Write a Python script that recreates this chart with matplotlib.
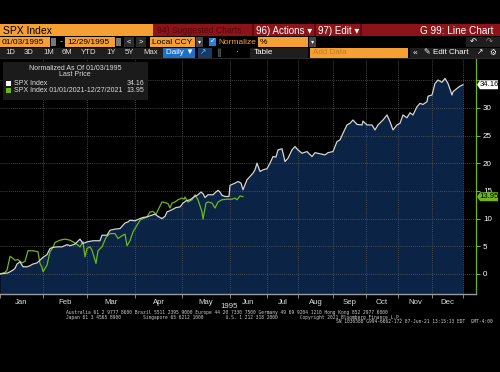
import numpy as np
import matplotlib
matplotlib.use('Agg')
import matplotlib.pyplot as plt
from matplotlib.patches import Rectangle, Polygon

# Du lieu doc tu anh (truc x = chi so quan sat, khong deu theo thang)
spx_obs = [0, 8, 13, 15, 17, 20, 23, 27, 30, 33, 37, 40, 43, 47, 50, 53, 57, 62, 67, 70,
           75, 80, 83, 87, 93, 100, 102, 107, 110, 115, 120, 125, 128, 130, 135, 140, 143, 147, 150, 155,
           158, 162, 165, 167, 172, 176, 180, 183, 186, 190, 194, 198, 201, 203, 205, 208, 213, 216, 218, 220,
           222, 225, 229, 230, 235, 238, 241, 243, 247, 250, 253, 255, 257, 260, 263, 267, 270, 273, 276, 278,
           282, 285, 288, 292, 295, 298, 302, 307, 312, 315, 320, 325, 328, 333, 337, 340, 343, 347, 350, 353,
           357, 362, 363, 367, 372, 375, 378, 383, 387, 390, 393, 397, 400, 403, 407, 410, 413, 417, 420, 423,
           427, 428, 432, 435, 438, 442, 445, 448, 452, 453, 457, 460, 463]
spx_1995 = [0.0, 0.2, 0.7, 1.0, 1.8, 2.2, 1.3, 1.3, 1.5, 1.8, 2.0, 2.5, 3.0, 3.5, 4.6, 4.8, 4.9, 4.9, 5.3, 5.1,
            5.4, 6.3, 5.5, 5.8, 6.0, 6.0, 7.0, 7.0, 7.9, 8.1, 8.2, 9.2, 9.4, 9.7, 9.6, 10.0, 10.2, 10.3, 10.5, 10.8,
            10.4, 10.0, 10.4, 11.2, 11.6, 12.0, 12.1, 12.8, 13.2, 13.4, 13.9, 14.3, 14.8, 14.5, 13.8, 14.3, 14.3, 14.8, 15.1, 14.8,
            14.2, 14.0, 14.0, 16.0, 16.4, 16.7, 16.4, 15.2, 17.0, 17.6, 18.2, 18.8, 20.0, 18.5, 18.8, 19.0, 20.0, 21.2, 21.1, 22.4,
            22.6, 20.3, 20.9, 22.4, 23.0, 22.4, 21.8, 22.1, 21.2, 21.9, 21.7, 21.5, 21.9, 22.1, 23.9, 24.2, 25.4, 26.9, 27.2, 27.8,
            27.0, 26.9, 27.6, 26.9, 26.9, 26.0, 26.9, 27.8, 28.7, 27.5, 26.0, 26.9, 27.2, 28.7, 28.2, 29.1, 28.7, 30.2, 30.8, 30.6,
            31.1, 32.1, 32.3, 34.4, 35.0, 34.6, 35.3, 34.4, 32.3, 32.9, 33.5, 33.9, 34.16]

g2021_obs = [0, 5, 7, 10, 13, 15, 18, 20, 22, 25, 28, 33, 38, 40, 42, 43, 47, 50, 53, 55,
             60, 65, 70, 75, 80, 83, 85, 87, 90, 92, 96, 98, 102, 106, 110, 115, 118, 122, 125, 127,
             130, 133, 137, 140, 143, 147, 150, 153, 156, 159, 162, 165, 168, 170, 172, 175, 178, 182, 184, 185,
             188, 192, 195, 198, 202, 203, 206, 208, 212, 215, 218, 222, 227, 232, 235, 237, 240, 243]
spx_2021 = [0.0, 0.3, 0.7, 3.2, 2.8, 2.5, 2.6, 2.3, 2.0, 2.3, 4.2, 4.2, 4.0, 1.9, 1.2, 0.4, 1.6, 4.0, 4.8, 5.7,
            6.1, 6.3, 6.1, 5.6, 4.9, 5.8, 3.1, 4.6, 4.9, 4.3, 1.9, 4.2, 4.9, 6.6, 7.3, 7.3, 6.4, 6.9, 7.2, 5.1,
            6.0, 7.6, 8.8, 9.7, 10.0, 10.3, 11.2, 11.3, 10.8, 11.9, 13.0, 12.9, 12.7, 11.9, 12.8, 13.0, 13.4, 13.7, 13.5, 13.9,
            13.0, 13.4, 14.3, 13.4, 11.2, 9.9, 12.8, 13.0, 12.8, 11.9, 13.0, 13.4, 13.5, 13.5, 13.7, 13.4, 14.1, 13.95]

months = ['Jan', 'Feb', 'Mar', 'Apr', 'May', 'Jun', 'Jul', 'Aug', 'Sep', 'Oct', 'Nov', 'Dec']
month_edges = [0, 43, 87, 135, 182, 230, 267, 298, 333, 366, 398, 432, 463]
y_ticks = [0, 5, 10, 15, 20, 25, 30, 35]

W, H = 500, 372
ORANGE = '#f6a033'
RED = '#8c1419'
GREEN = '#6fb51c'
NAVY = '#0b2446'

plt.rcParams['font.family'] = ['Liberation Sans', 'DejaVu Sans']
fig = plt.figure(figsize=(5, 3.72), dpi=100, facecolor='black')


def box(x, y, w, h, color, **kw):
    fig.patches.append(Rectangle((x / W, 1 - (y + h) / H), w / W, h / H,
                                 transform=fig.transFigure, facecolor=color,
                                 edgecolor='none', **kw))


def txt(x, y, s, size=5.2, color='white', **kw):
    fig.text(x / W, 1 - y / H, s, fontsize=size, color=color, va='center', **kw)


# ---- thanh tieu de ----
box(0, 24, 153, 12, ORANGE)
box(153, 24, 347, 12, RED)
for sx in [252, 314, 360]:
    box(sx, 24, 1.5, 12, '#5e0c10')
txt(3, 30.5, 'SPX Index', 7.5, 'black')
txt(157, 30.5, '94) Suggested Charts', 6.2, '#4e0a0d')
txt(256, 30.5, '96) Actions \u25be', 7, 'white')
txt(318, 30.5, '97) Edit \u25be', 7, 'white')
txt(494, 30.5, 'G 99: Line Chart', 7.2, 'white', ha='right')

# ---- hang 2 ----
box(0, 37, 50, 10, ORANGE)
txt(2, 42, '01/03/1995', 6, 'black')
box(51, 38, 5, 8, '#777777')
txt(60, 42, '-', 6, 'white')
box(65, 37, 50, 10, ORANGE)
txt(67, 42, '12/29/1995', 6, 'black')
box(116, 38, 5, 8, '#777777')
box(124, 37, 10, 10, '#2b2b2b')
box(136, 37, 10, 10, '#2b2b2b')
txt(126.5, 42, '<', 5.5, 'white')
txt(138.5, 42, '>', 5.5, 'white')
box(150, 37, 45, 10, ORANGE)
txt(152, 42, 'Local CCY', 6, 'black')
box(196, 37, 7, 10, '#444444')
txt(197.5, 42, '\u25be', 4.5, 'white')
box(209, 38, 7, 8, '#2d7fd6')
txt(209.5, 42, '\u2713', 5, 'white')
txt(218, 42, 'Normalize', 6, ORANGE)
box(258, 37, 50, 10, ORANGE)
txt(260, 42, '%', 6, 'black')
box(309, 37, 7, 10, '#444444')
txt(310.5, 42, '\u25be', 4.5, 'white')
box(466, 37, 34, 10, '#1e1e1e')
txt(470, 42, '\u21b6', 6, 'white')
txt(486, 42, '\u21b7', 6, '#888888')

# ---- hang 3 ----
btn_labels = ['1D', '3D', '1M', '6M', 'YTD', '1Y', '5Y', 'Max']
btn_x = [3, 22, 41, 60, 79, 104, 123, 141]
box(0, 48, 163, 10, '#1e1e1e')
for lab, bx in zip(btn_labels, btn_x):
    txt(bx + 2, 53, lab, 5.6, '#e0e0e0')
box(163, 48, 32, 10, '#1f6fc9')
txt(166, 53, 'Daily \u25bc', 5.8, 'white')
box(198, 48, 14, 10, '#1a3a66')
txt(200, 53, '\u2197', 5.5, '#7fb0ff')
txt(216, 53, '\u2551', 5, '#cccccc')
txt(236, 53, '\u00b7', 6, '#cccccc')
box(250, 48, 58, 10, '#1e1e1e')
txt(254, 53, 'Table', 5.8, 'white')
box(310, 48, 98, 10, ORANGE)
txt(313, 53, 'Add Data', 5.8, '#c77a20')
box(410, 48, 90, 10, '#1e1e1e')
txt(413, 53, '\u00ab', 6, 'white')
txt(424, 53, '\u270e Edit Chart', 5.8, 'white')
txt(477, 53, '\u2197', 5.5, 'white')
txt(489, 53, '\u2699', 5.5, 'white')
box(0, 58, 500, 0.6, '#2a2a2a')

# ---- bieu do chinh ----
ax = fig.add_axes([0, (H - 294) / H, 476 / W, (294 - 59) / H])
ax.set_facecolor('black')
ax.set_xlim(0, 476)
ax.set_ylim((274 - 294) / 5.54, (274 - 59) / 5.54)

ax.fill_between(spx_obs, spx_1995, -10, color=NAVY, zorder=1, lw=0)
for v in y_ticks:
    ax.axhline(v, color='#5a5a5a', lw=0.6, ls=(0, (1, 1.5)), zorder=2)
for e in month_edges[1:]:
    ax.axvline(e, color='#5a5a5a', lw=0.6, ls=(0, (1, 1.5)), zorder=2)
ax.plot(spx_obs, spx_1995, color='#d6d6d6', lw=0.9, zorder=4)
ax.plot(g2021_obs, spx_2021, color=GREEN, lw=0.9, zorder=3)

for s in ['top', 'left']:
    ax.spines[s].set_visible(False)
ax.spines['bottom'].set_color('#9a9a9a')
ax.spines['bottom'].set_linewidth(1.0)
ax.spines['right'].set_color(GREEN)
ax.spines['right'].set_linewidth(0.9)

ax.yaxis.tick_right()
ax.set_yticks(y_ticks)
# nhan 35 bi nhan gia tri cuoi che khuat
ax.set_yticklabels([str(v) if v != 35 else '' for v in y_ticks])
ax.tick_params(axis='y', colors=GREEN, labelcolor='white', length=3, width=0.8,
               labelsize=5.8, pad=2)
ax.set_xticks(month_edges)
ax.set_xticklabels([])
ax.tick_params(axis='x', colors='#9a9a9a', length=3, width=0.6)
mids = [(a + b) / 2 for a, b in zip(month_edges[:-1], month_edges[1:])]
for m, name in zip(mids, months):
    ax.text(m, -0.022, name, transform=ax.get_xaxis_transform(), ha='center',
            va='top', fontsize=5.6, color='#dddddd')


# nhan gia tri cuoi ben phai
def tag(val, fc, tc):
    y = 1 - ((274 - val * 5.54) / H)
    x0 = 477 / W
    w = 21 / W
    h = 9 / H
    fig.patches.append(Polygon([(x0, y), (x0 + 3 / W, y + h / 2), (x0 + w, y + h / 2),
                                (x0 + w, y - h / 2), (x0 + 3 / W, y - h / 2)],
                               closed=True, transform=fig.transFigure, facecolor=fc,
                               edgecolor='none', zorder=5))
    fig.text(x0 + 12 / W, y, f'{val:.2f}', fontsize=5.6, color=tc, ha='center',
             va='center', zorder=6)


tag(spx_1995[-1], 'white', 'black')
tag(spx_2021[-1], GREEN, 'black')

# ---- chu giai ----
box(3, 62, 145, 38, '#1b1b1b', zorder=5)
txt(75, 68, 'Normalized As Of 01/03/1995', 5.0, '#dddddd', ha='center', zorder=6)
txt(75, 75, 'Last Price', 5.0, '#dddddd', ha='center', zorder=6)
box(6, 81, 5, 5, 'white', zorder=6)
txt(14, 83.5, 'SPX Index', 5.0, '#dddddd', zorder=6)
txt(144, 83.5, f'{spx_1995[-1]:.2f}', 5.0, '#dddddd', ha='right', zorder=6)
box(6, 88, 5, 5, GREEN, zorder=6)
txt(14, 90.5, 'SPX Index 01/01/2021-12/27/2021', 5.0, '#dddddd', zorder=6)
txt(144, 90.5, f'{spx_2021[-1]:.2f}', 5.0, '#dddddd', ha='right', zorder=6)

# ---- chan trang ----
txt(238, 306, '1995', 5.6, '#dddddd', ha='right')
foot = dict(family='DejaVu Sans Mono', size=3.3, color='#cccccc')
txt(66, 312.5, 'Australia 61 2 9777 8600 Brazil 5511 2395 9000 Europe 44 20 7330 7500 '
    'Germany 49 69 9204 1210 Hong Kong 852 2977 6000', **foot)
txt(66, 317, 'Japan 81 3 4565 8900        Singapore 65 6212 1000        U.S. 1 212 318 2000'
    '        Copyright 2021 Bloomberg Finance L.P.', **foot)
txt(493, 321.5, 'SN 1036588 G994-6662-172 07-Jun-21 13:15:13 EDT  GMT-4:00', ha='right', **foot)

fig.savefig('out.png', dpi=100, facecolor='black')
